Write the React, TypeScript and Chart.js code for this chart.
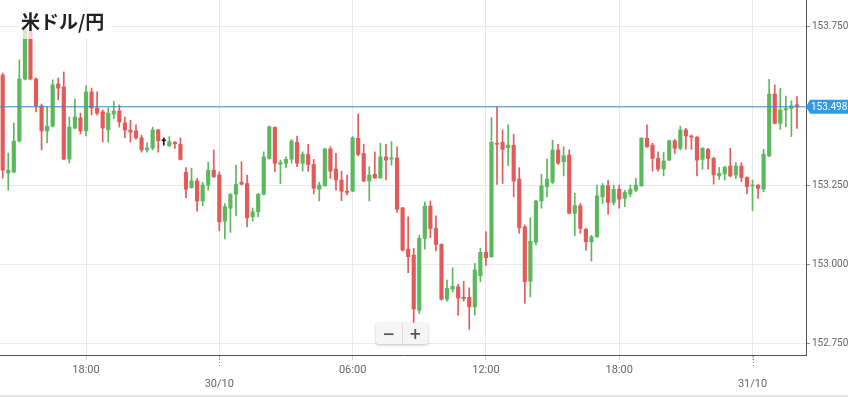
import React, { useEffect, useRef } from "react";
import { Chart, registerables } from "chart.js";

Chart.register(...registerables);

const TITLE = "米ドル/円";
const CURRENT_PRICE = 153.498;

const opens = [
  153.598, 153.289, 153.292, 153.390, 153.586, 153.737, 153.586, 153.501, 153.422, 153.437,
  153.570, 153.561, 153.333, 153.431, 153.463, 153.422, 153.545, 153.494, 153.482, 153.425,
  153.475, 153.485, 153.447, 153.425, 153.422, 153.400, 153.362, 153.368, 153.425, 153.391,
  153.375, 153.386, 153.380, 153.291, 153.243, 153.264, 153.201, 153.251, 153.298, 153.283,
  153.137, 153.178, 153.222, 153.260, 153.256, 153.151, 153.167, 153.222, 153.335, 153.433,
  153.317, 153.320, 153.333, 153.386, 153.320, 153.348, 153.316, 153.238, 153.249, 153.365,
  153.302, 153.267, 153.232, 153.232, 153.399, 153.351, 153.264, 153.285, 153.274, 153.340,
  153.333, 153.337, 153.179, 153.049, 153.030, 152.856, 153.083, 153.185, 153.114, 153.064,
  152.891, 152.923, 152.930, 152.897, 152.897, 152.867, 152.965, 153.039, 153.025, 153.383,
  153.386, 153.369, 153.377, 153.270, 153.119, 152.948, 153.071, 153.201, 153.246, 153.260,
  153.362, 153.325, 153.346, 153.162, 153.186, 153.112, 153.072, 153.088, 153.214, 153.249,
  153.196, 153.238, 153.209, 153.223, 153.235, 153.249, 153.399, 153.377, 153.335, 153.302,
  153.330, 153.391, 153.367, 153.425, 153.406, 153.402, 153.332, 153.364, 153.335, 153.280,
  153.286, 153.311, 153.283, 153.311, 153.275, 153.248, 153.251, 153.238, 153.343, 153.538,
  153.446, 153.488, 153.493, 153.504,
];
const highs = [
  153.605, 153.352, 153.447, 153.646, 153.747, 153.741, 153.589, 153.507, 153.497, 153.583,
  153.589, 153.608, 153.466, 153.523, 153.478, 153.564, 153.557, 153.545, 153.488, 153.494,
  153.516, 153.504, 153.466, 153.456, 153.441, 153.409, 153.384, 153.434, 153.427, 153.400,
  153.404, 153.388, 153.400, 153.306, 153.304, 153.272, 153.260, 153.323, 153.362, 153.293,
  153.193, 153.224, 153.314, 153.325, 153.283, 153.179, 153.225, 153.356, 153.437, 153.435,
  153.330, 153.340, 153.395, 153.406, 153.356, 153.380, 153.332, 153.260, 153.367, 153.372,
  153.351, 153.295, 153.283, 153.404, 153.475, 153.380, 153.309, 153.356, 153.383, 153.380,
  153.388, 153.372, 153.181, 153.151, 153.051, 153.093, 153.198, 153.201, 153.154, 153.066,
  152.951, 152.990, 152.938, 152.948, 152.927, 153.004, 153.051, 153.104, 153.464, 153.498,
  153.425, 153.441, 153.411, 153.306, 153.125, 153.148, 153.204, 153.285, 153.333, 153.393,
  153.380, 153.372, 153.362, 153.225, 153.193, 153.114, 153.093, 153.251, 153.256, 153.267,
  153.251, 153.251, 153.235, 153.251, 153.272, 153.401, 153.441, 153.383, 153.356, 153.354,
  153.393, 153.395, 153.437, 153.430, 153.409, 153.404, 153.370, 153.367, 153.339, 153.307,
  153.311, 153.367, 153.322, 153.322, 153.277, 153.267, 153.253, 153.364, 153.585, 153.567,
  153.556, 153.532, 153.517, 153.530,
];
const lows = [
  153.273, 153.235, 153.290, 153.387, 153.583, 153.583, 153.482, 153.362, 153.384, 153.434,
  153.520, 153.331, 153.321, 153.428, 153.412, 153.406, 153.472, 153.472, 153.387, 153.387,
  153.460, 153.434, 153.400, 153.387, 153.396, 153.355, 153.355, 153.362, 153.355, 153.377,
  153.373, 153.367, 153.330, 153.211, 153.241, 153.169, 153.186, 153.235, 153.275, 153.107,
  153.081, 153.102, 153.154, 153.252, 153.119, 153.137, 153.151, 153.220, 153.333, 153.293,
  153.256, 153.306, 153.320, 153.309, 153.295, 153.295, 153.223, 153.201, 153.247, 153.272,
  153.235, 153.202, 153.220, 153.230, 153.343, 153.262, 153.201, 153.272, 153.272, 153.267,
  153.314, 153.165, 153.043, 152.975, 152.818, 152.846, 153.049, 153.085, 153.043, 152.888,
  152.885, 152.914, 152.841, 152.885, 152.796, 152.841, 152.946, 152.998, 153.023, 153.253,
  153.256, 153.312, 153.214, 153.099, 152.878, 152.898, 153.062, 153.178, 153.214, 153.256,
  153.316, 153.280, 153.160, 153.091, 153.099, 153.046, 153.011, 153.086, 153.193, 153.159,
  153.188, 153.178, 153.183, 153.214, 153.230, 153.247, 153.370, 153.295, 153.295, 153.280,
  153.328, 153.351, 153.362, 153.364, 153.364, 153.280, 153.301, 153.301, 153.254, 153.269,
  153.267, 153.277, 153.272, 153.262, 153.223, 153.170, 153.209, 153.230, 153.341, 153.444,
  153.427, 153.435, 153.404, 153.430,
];
const closes = [
  153.298, 153.298, 153.390, 153.586, 153.741, 153.586, 153.501, 153.422, 153.437, 153.567,
  153.557, 153.333, 153.434, 153.466, 153.422, 153.545, 153.494, 153.478, 153.431, 153.478,
  153.485, 153.450, 153.425, 153.418, 153.400, 153.362, 153.368, 153.425, 153.391, 153.391,
  153.388, 153.381, 153.332, 153.238, 153.264, 153.201, 153.251, 153.298, 153.277, 153.135,
  153.183, 153.222, 153.253, 153.254, 153.148, 153.167, 153.222, 153.340, 153.435, 153.320,
  153.322, 153.332, 153.390, 153.320, 153.348, 153.316, 153.241, 153.251, 153.365, 153.295,
  153.267, 153.232, 153.228, 153.400, 153.348, 153.264, 153.283, 153.274, 153.340, 153.330,
  153.337, 153.175, 153.046, 153.025, 152.860, 153.083, 153.185, 153.114, 153.064, 152.891,
  152.925, 152.932, 152.895, 152.893, 152.867, 152.983, 153.039, 153.022, 153.386, 153.380,
  153.364, 153.377, 153.264, 153.116, 152.946, 153.074, 153.201, 153.249, 153.270, 153.362,
  153.320, 153.344, 153.162, 153.186, 153.114, 153.072, 153.088, 153.217, 153.249, 153.196,
  153.238, 153.207, 153.228, 153.238, 153.251, 153.399, 153.372, 153.335, 153.302, 153.327,
  153.391, 153.367, 153.425, 153.406, 153.402, 153.330, 153.367, 153.335, 153.283, 153.288,
  153.307, 153.280, 153.311, 153.275, 153.246, 153.251, 153.241, 153.349, 153.538, 153.446,
  153.488, 153.493, 153.501, 153.498,
];

// x-axis tick positions (candle index, 15-minute candles) and their labels
const xTickIndex = [15, 39, 63, 87, 111, 135];
const xTickLabels: (string | string[])[] = ["18:00", ["", "30/10"], "06:00", "12:00", "18:00", ["", "31/10"]];
const yTickValues = [152.75, 153.0, 153.25, 153.5, 153.75];

const X_MIN = -0.486;
const X_MAX = 144.63;
const Y_MIN = 152.715;
const Y_MAX = 153.835;

const GREEN = "#5cb85c";
const RED = "#e35a5a";
const BLUE_LINE = "#2f8fd3";
const BLUE_BOX = "#2e9be8";

export default function App() {
  const ref = useRef<HTMLCanvasElement | null>(null);

  useEffect(() => {
    document.body.style.margin = "0";
    const canvas = ref.current;
    if (!canvas) return;
    const idx = opens.map((_, i) => i);
    const colors = idx.map((i) =>
      closes[i] > opens[i] ? GREEN : closes[i] < opens[i] ? RED : "#111111"
    );

    const pricePlugin = {
      id: "priceTag",
      afterDraw(chart: any) {
        const { ctx, scales } = chart;
        const y = scales.y.getPixelForValue(CURRENT_PRICE);
        ctx.save();
        ctx.fillStyle = BLUE_BOX;
        const x0 = 810, x1 = 848, h = 14;
        ctx.beginPath();
        ctx.moveTo(x0 - 4, y);
        ctx.lineTo(x0, y - h / 2);
        ctx.lineTo(x1, y - h / 2);
        ctx.lineTo(x1, y + h / 2);
        ctx.lineTo(x0, y + h / 2);
        ctx.closePath();
        ctx.fill();
        ctx.fillStyle = "#ffffff";
        ctx.font = "10px Roboto, 'Liberation Sans', sans-serif";
        ctx.textBaseline = "middle";
        ctx.textAlign = "left";
        ctx.fillText(CURRENT_PRICE.toFixed(3), 811, y + 0.5);
        // dotted date ticks below x axis
        const base = chart.chartArea.bottom;
        ctx.strokeStyle = "#888";
        ctx.lineWidth = 1;
        ctx.setLineDash([1, 2]);
        xTickIndex.forEach((v, k) => {
          if (Array.isArray(xTickLabels[k])) {
            const x = Math.round(scales.x.getPixelForValue(v)) + 0.5;
            ctx.beginPath();
            ctx.moveTo(x, base + 1);
            ctx.lineTo(x, base + 12);
            ctx.stroke();
          }
        });
        ctx.restore();
      },
    };

    const chart = new Chart(canvas, {
      type: "bar",
      data: {
        datasets: [
          {
            type: "line",
            data: [
              { x: X_MIN, y: CURRENT_PRICE },
              { x: X_MAX, y: CURRENT_PRICE },
            ],
            borderColor: BLUE_LINE,
            borderWidth: 1,
            pointRadius: 0,
            order: 0,
          } as any,
          {
            type: "bar",
            data: idx.map((i) => ({ x: i, y: [opens[i], closes[i]] })),
            backgroundColor: colors,
            barThickness: 3.5,
            grouped: false,
            minBarLength: 1,
            order: 1,
          } as any,
          {
            type: "bar",
            data: idx.map((i) => ({ x: i, y: [lows[i], highs[i]] })),
            backgroundColor: colors,
            barThickness: 1,
            grouped: false,
            order: 2,
          } as any,
        ],
      },
      options: {
        animation: false,
        responsive: false,
        maintainAspectRatio: false,
        layout: { padding: 0 },
        plugins: { legend: { display: false }, tooltip: { enabled: false } },
        scales: {
          x: {
            type: "linear",
            min: X_MIN,
            max: X_MAX,
            offset: false,
            afterBuildTicks: (s: any) => {
              s.ticks = xTickIndex.map((v) => ({ value: v }));
            },
            afterFit: (s: any) => {
              s.height = 40;
              s.paddingLeft = 0;
              s.paddingRight = 0;
              s.paddingTop = 0;
              s.paddingBottom = 0;
            },
            ticks: {
              autoSkip: false,
              maxRotation: 0,
              padding: 3,
              color: "#666",
              font: { family: "Roboto, 'Liberation Sans', sans-serif", size: 11, lineHeight: 1.3 },
              callback: (v: any) => {
                const k = xTickIndex.indexOf(Number(v));
                return k >= 0 ? xTickLabels[k] : "";
              },
            },
            grid: {
              color: "#e9e9e9",
              offset: false,
              drawTicks: true,
              tickLength: 5,
              tickColor: "#d0d0d0",
            },
            border: { color: "#555", width: 1 },
          },
          y: {
            type: "linear",
            position: "right",
            min: Y_MIN,
            max: Y_MAX,
            afterBuildTicks: (s: any) => {
              s.ticks = yTickValues.map((v) => ({ value: v }));
            },
            afterFit: (s: any) => {
              s.width = 42;
              s.paddingTop = 0;
              s.paddingBottom = 0;
              s.paddingLeft = 0;
              s.paddingRight = 0;
            },
            ticks: {
              padding: 2,
              color: "#666",
              font: { family: "Roboto, 'Liberation Sans', sans-serif", size: 10 },
              callback: (v: any) => Number(v).toFixed(3),
            },
            grid: {
              color: "#e9e9e9",
              drawTicks: true,
              tickLength: 4,
              tickColor: "#888",
            },
            border: { color: "#555", width: 1 },
          },
        },
      },
      plugins: [pricePlugin],
    } as any);
    return () => chart.destroy();
  }, []);

  return (
    <div style={{ position: "relative", width: 848, height: 397, background: "#fff", overflow: "hidden" }}>
      <canvas ref={ref} width={848} height={395} style={{ display: "block" }} />
      <div style={{ position: "absolute", left: 0, top: 395, width: 848, height: 2, background: "#e4e4e4" }} />
      <div
        style={{
          position: "absolute",
          left: 18,
          top: 0,
          height: 39,
          boxSizing: "border-box",
          padding: "11px 8px 0 3px",
          background: "rgba(255,255,255,0.72)",
          fontFamily: "'Noto Sans CJK JP', sans-serif",
          fontWeight: 700,
          fontSize: 19,
          lineHeight: "20px",
          color: "#222",
          whiteSpace: "nowrap",
        }}
      >
        {TITLE}
      </div>
      <div
        style={{
          position: "absolute",
          left: 376,
          top: 323,
          width: 52,
          height: 21,
          display: "flex",
          background: "#f5f5f5",
          borderRadius: 2,
          boxShadow: "0 1px 3px rgba(0,0,0,0.25)",
          fontFamily: "'DejaVu Sans', sans-serif",
          fontWeight: 700,
          fontSize: 15,
          color: "#555",
        }}
      >
        <div style={{ flex: 1, display: "flex", alignItems: "center", justifyContent: "center", borderRight: "1px solid #ddd" }}>−</div>
        <div style={{ flex: 1, display: "flex", alignItems: "center", justifyContent: "center" }}>+</div>
      </div>
    </div>
  );
}
